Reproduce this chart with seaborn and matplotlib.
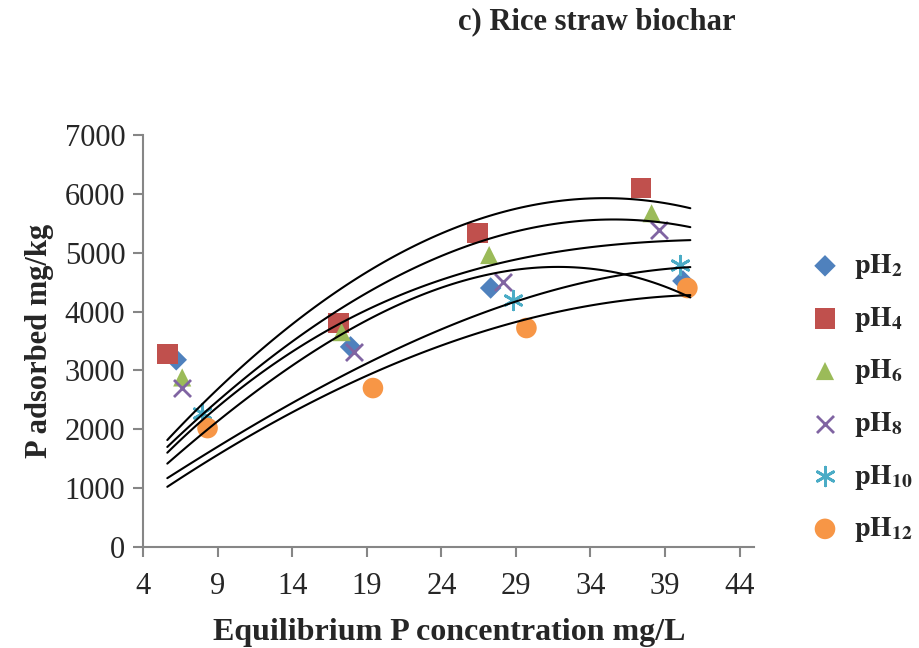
import matplotlib
matplotlib.use("Agg")
import matplotlib.pyplot as plt
import seaborn as sns
import pandas as pd

# ---- measured points ----
ph2_x = [6.2, 17.9, 27.3, 40.2]
ph2_y = [3180, 3400, 4400, 4520]
ph4_x = [5.6, 17.1, 26.4, 37.4]
ph4_y = [3280, 3806, 5335, 6100]
ph6_x = [6.6, 17.3, 27.2, 38.1]
ph6_y = [2880, 3650, 4960, 5670]
ph8_x = [6.6, 18.1, 28.1, 38.6]
ph8_y = [2700, 3310, 4500, 5385]
ph10_x = [7.9, 28.8, 40.0]
ph10_y = [2280, 4200, 4790]
ph12_x = [8.3, 19.4, 29.7, 40.5]
ph12_y = [2020, 2700, 3720, 4400]

# ---- fitted model curves ----
curve_x = [5.6, 14.8, 22.6, 29.9, 35.3, 40.7]
curve_ph4 = [1818, 3942, 5165, 5810, 5912, 5760]
curve_ph6 = [1700, 3636, 4790, 5420, 5555, 5437]
curve_ph8 = [1597, 3466, 4400, 4910, 5165, 5200]
curve_ph2 = [1427, 3177, 4320, 4760, 4620, 4265]
curve_ph10 = [1172, 2548, 3568, 4230, 4587, 4757]
curve_ph12 = [1019, 2412, 3262, 3908, 4145, 4280]

labels = [r"$\mathbf{pH_{2}}$", r"$\mathbf{pH_{4}}$", r"$\mathbf{pH_{6}}$",
          r"$\mathbf{pH_{8}}$", r"$\mathbf{pH_{10}}$", r"$\mathbf{pH_{12}}$"]
x_ticks = [4, 9, 14, 19, 24, 29, 34, 39, 44]
y_ticks = [0, 1000, 2000, 3000, 4000, 5000, 6000, 7000]

sns.set_style("white")
plt.rcParams["font.family"] = ["Liberation Serif", "DejaVu Serif"]
plt.rcParams["mathtext.fontset"] = "stix"

fig = plt.figure(figsize=(9.19, 6.48), dpi=100)
ax = fig.add_axes([0.1561, 0.1559, 0.6648, 0.6358])

series = [
    (ph2_x, ph2_y, "D", "#4F81BD", 120, None),
    (ph4_x, ph4_y, "s", "#C0504D", 220, None),
    (ph6_x, ph6_y, "^", "#9BBB59", 170, None),
    (ph8_x, ph8_y, "x", "#8064A2", 150, 2.0),
    (ph10_x, ph10_y, (6, 2, 0), "#4BACC6", 180, 2.0),
    (ph12_x, ph12_y, "o", "#F79646", 220, None),
]
for (xs, ys, mk, col, s, lw), lab in zip(series, labels):
    df = pd.DataFrame({"x": xs, "y": ys})
    kw = dict(marker=mk, s=s, color=col, label=lab, ax=ax, zorder=2)
    if lw is not None:
        kw["linewidth"] = lw
    else:
        kw["edgecolor"] = "none"
    sns.scatterplot(data=df, x="x", y="y", **kw)

for cy in [curve_ph4, curve_ph6, curve_ph8, curve_ph2, curve_ph10, curve_ph12]:
    sns.regplot(x=curve_x, y=cy, order=3, scatter=False, ci=None, ax=ax,
                line_kws=dict(color="black", lw=1.5, zorder=3))

ax.set_xlim(4, 45)
ax.set_ylim(0, 7000)
ax.set_xticks(x_ticks)
ax.set_yticks(y_ticks)
for sp in ["top", "right"]:
    ax.spines[sp].set_visible(False)
for sp in ["left", "bottom"]:
    ax.spines[sp].set_color("#868686")
    ax.spines[sp].set_linewidth(1.5)
ax.tick_params(axis="both", direction="out", length=7, width=1.5, color="#868686",
               labelsize=22, bottom=True, left=True)
ax.tick_params(axis="y", pad=6)
ax.tick_params(axis="x", pad=11)

ax.set_xlabel("Equilibrium P concentration mg/L", fontsize=23, fontweight="bold", labelpad=12)
ax.set_ylabel("P adsorbed mg/kg", fontsize=22, fontweight="bold", labelpad=8)

fig.text(597 / 919, 1 - 22 / 648, "c) Rice straw biochar", fontsize=22,
         fontweight="bold", ha="center", va="center")

leg = ax.legend(loc="upper left", bbox_to_anchor=(800 / 919, 1 - 241 / 648),
                bbox_transform=fig.transFigure, frameon=False, fontsize=20,
                labelspacing=0.85, handletextpad=0.55, borderaxespad=0,
                handlelength=1.0)

fig.savefig("out.png", dpi=100)
